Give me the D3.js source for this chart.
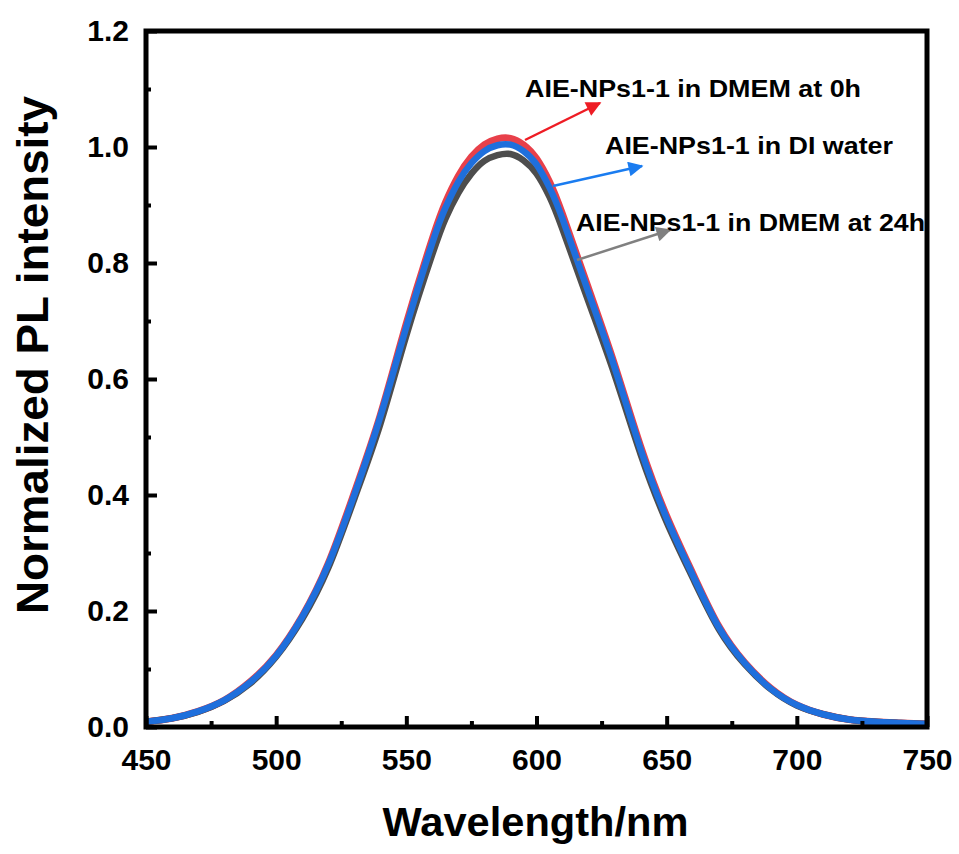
<!DOCTYPE html>
<html>
<head>
<meta charset="utf-8">
<script src="https://cdn.jsdelivr.net/npm/d3@7"></script>
<style>
  body { margin: 0; background: #fff; }
  svg { display: block; font-family: "Liberation Sans", Arial, sans-serif; font-weight: bold; }
</style>
</head>
<body>
<svg id="chart" width="959" height="854"></svg>
<script>
// wavelengths (nm) and normalized PL intensity
var wavelength = [450, 460, 470, 480, 490, 500, 510, 520, 530, 540, 550, 560, 565, 570, 575, 580, 585, 590, 595, 600, 605,
                  610, 620, 630, 640, 650, 660, 670, 680, 690, 700, 710, 720, 730, 740, 750];

var dmem0h = [0.009, 0.015, 0.027, 0.046, 0.078, 0.124, 0.191, 0.282, 0.404, 0.538, 0.696, 0.842, 0.904, 0.950, 0.983, 1.004, 1.014, 1.015, 1.004, 0.980, 0.940,
              0.884, 0.756, 0.625, 0.484, 0.364, 0.265, 0.174, 0.111, 0.067, 0.038, 0.022, 0.013, 0.009, 0.007, 0.005];

var diWater = [0.009, 0.015, 0.027, 0.046, 0.077, 0.123, 0.190, 0.280, 0.400, 0.535, 0.690, 0.835, 0.895, 0.940, 0.972, 0.993, 1.003, 1.004, 0.993, 0.970, 0.930,
               0.876, 0.749, 0.620, 0.479, 0.360, 0.262, 0.172, 0.110, 0.066, 0.038, 0.022, 0.013, 0.009, 0.007, 0.005];

var dmem24h = [0.009, 0.015, 0.026, 0.045, 0.075, 0.121, 0.186, 0.274, 0.393, 0.522, 0.675, 0.815, 0.876, 0.921, 0.954, 0.976, 0.986, 0.988, 0.977, 0.954, 0.914,
               0.858, 0.733, 0.607, 0.470, 0.353, 0.257, 0.169, 0.108, 0.065, 0.037, 0.022, 0.013, 0.009, 0.007, 0.005];

var xTicks = [450, 500, 550, 600, 650, 700, 750];
var yTicks = [0.0, 0.2, 0.4, 0.6, 0.8, 1.0, 1.2];

var labels = ['AIE-NPs1-1 in DMEM at 0h', 'AIE-NPs1-1 in DI water', 'AIE-NPs1-1 in DMEM at 24h'];

var svg = d3.select('#chart');

var plotLeft = 146, plotRight = 927, plotTop = 31, plotBottom = 727;

var xScale = d3.scaleLinear().domain([450, 750]).range([plotLeft, plotRight]);
var yScale = d3.scaleLinear().domain([0, 1.2]).range([plotBottom, plotTop]);

var series = [
    { name: labels[0], values: dmem0h, color: '#e8404a', width: 7 },
    { name: labels[2], values: dmem24h, color: '#4d4d4d', width: 6.5 },
    { name: labels[1], values: diWater, color: '#1f6fdc', width: 6.5 }
];

var line = d3.line()
    .x(d => xScale(d[0]))
    .y(d => yScale(d[1]))
    .curve(d3.curveNatural);

var defs = svg.append('defs');
defs.append('clipPath')
    .attr('id', 'plotClip')
    .append('rect')
    .attr('x', plotLeft).attr('y', plotTop)
    .attr('width', plotRight - plotLeft).attr('height', plotBottom - plotTop);

svg.append('g')
    .attr('clip-path', 'url(#plotClip)')
    .selectAll('path')
    .data(series)
    .enter()
    .append('path')
    .attr('d', s => line(wavelength.map((w, i) => [w, s.values[i]])))
    .attr('fill', 'none')
    .attr('stroke', s => s.color)
    .attr('stroke-width', s => s.width)
    .attr('stroke-linejoin', 'round');

// axes
var xAxis = d3.axisBottom(xScale)
    .tickValues(xTicks)
    .tickSize(-11)
    .tickPadding(22)
    .tickFormat(d3.format('d'));

var xMinor = d3.axisBottom(xScale)
    .tickValues([475, 525, 575, 625, 675, 725])
    .tickSize(-6)
    .tickFormat('');

var yAxis = d3.axisLeft(yScale)
    .tickValues(yTicks)
    .tickSize(-11)
    .tickPadding(17)
    .tickFormat(d3.format('.1f'));

var yMinor = d3.axisLeft(yScale)
    .tickValues([0.1, 0.3, 0.5, 0.7, 0.9, 1.1])
    .tickSize(-5)
    .tickFormat('');

[xAxis, xMinor].forEach(function(ax) {
    svg.append('g')
        .attr('class', 'axis')
        .attr('transform', 'translate(0,' + plotBottom + ')')
        .call(ax);
});

[yAxis, yMinor].forEach(function(ax) {
    svg.append('g')
        .attr('class', 'axis')
        .attr('transform', 'translate(' + plotLeft + ',0)')
        .call(ax);
});

svg.selectAll('.axis .domain').remove();
svg.selectAll('.axis line')
    .attr('stroke', '#000')
    .attr('stroke-width', 4);
svg.selectAll('.axis text')
    .attr('fill', '#000')
    .style('font-size', '30px')
    .style('font-weight', 'bold');

// frame
svg.append('rect')
    .attr('x', plotLeft)
    .attr('y', plotTop)
    .attr('width', plotRight - plotLeft)
    .attr('height', plotBottom - plotTop)
    .attr('fill', 'none')
    .attr('stroke', '#000')
    .attr('stroke-width', 5);

// axis titles
svg.append('text')
    .attr('x', (plotLeft + plotRight) / 2 - 1)
    .attr('y', 836)
    .attr('text-anchor', 'middle')
    .attr('textLength', 306)
    .attr('lengthAdjust', 'spacingAndGlyphs')
    .style('font-size', '40px')
    .text('Wavelength/nm');

svg.append('text')
    .attr('transform', 'rotate(-90)')
    .attr('x', -355)
    .attr('y', 48)
    .attr('text-anchor', 'middle')
    .attr('textLength', 518)
    .attr('lengthAdjust', 'spacingAndGlyphs')
    .style('font-size', '44px')
    .text('Normalized PL intensity');

// annotation arrows
var arrows = [
    { color: '#ee1c24', from: [525, 140], to: [600, 103], text: labels[0], tx: 525, ty: 97, tw: 336 },
    { color: '#1a7cf0', from: [553, 186], to: [642, 166], text: labels[1], tx: 605, ty: 154, tw: 288 },
    { color: '#808080', from: [577, 260], to: [670, 230], text: labels[2], tx: 576, ty: 231, tw: 349 }
];

arrows.forEach(function(a, i) {
    defs.append('marker')
        .attr('id', 'head' + i)
        .attr('viewBox', '0 0 10 10')
        .attr('refX', 9)
        .attr('refY', 5)
        .attr('markerWidth', 8)
        .attr('markerHeight', 6)
        .attr('markerUnits', 'strokeWidth')
        .attr('orient', 'auto')
        .append('path')
        .attr('d', 'M0,0 L10,5 L0,10 Z')
        .attr('fill', a.color);

    svg.append('line')
        .attr('x1', a.from[0]).attr('y1', a.from[1])
        .attr('x2', a.to[0]).attr('y2', a.to[1])
        .attr('stroke', a.color)
        .attr('stroke-width', 2.5)
        .attr('marker-end', 'url(#head' + i + ')');

    svg.append('text')
        .attr('x', a.tx)
        .attr('y', a.ty)
        .attr('textLength', a.tw)
        .attr('lengthAdjust', 'spacingAndGlyphs')
        .style('font-size', '24px')
        .attr('fill', '#000')
        .text(a.text);
});
</script>
</body>
</html>
